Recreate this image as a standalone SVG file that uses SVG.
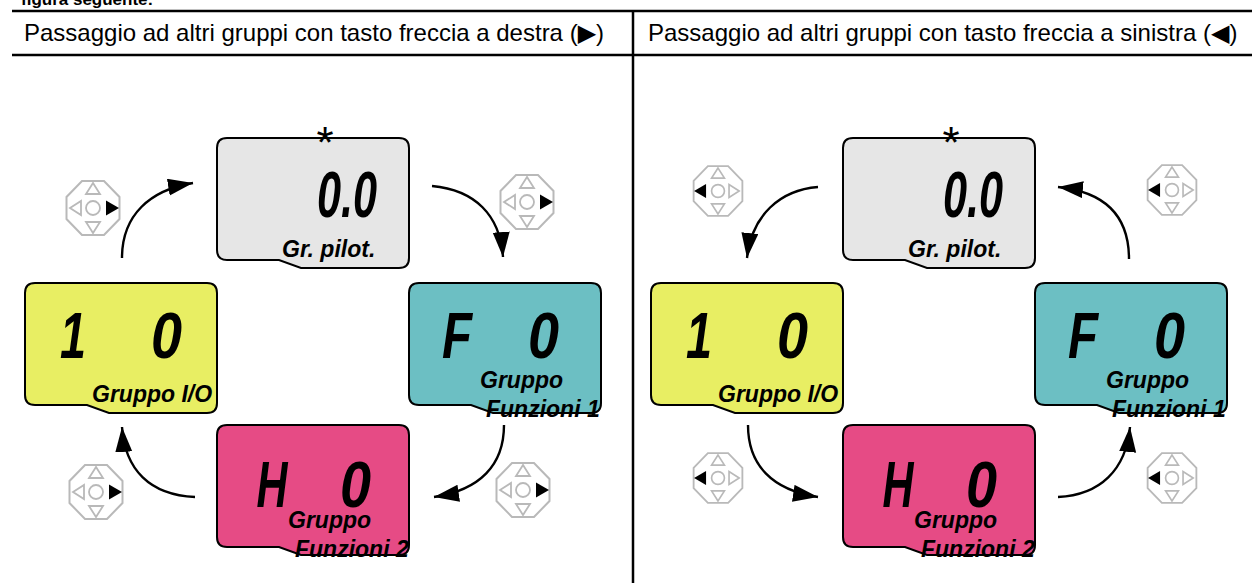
<svg xmlns="http://www.w3.org/2000/svg" xmlns:xlink="http://www.w3.org/1999/xlink" width="1252" height="583" viewBox="0 0 1252 583">
<style>
.rule{stroke:#000;stroke-width:2.5;fill:none}
.hdr{font-family:"Liberation Sans","DejaVu Sans",sans-serif;font-size:24px;fill:#000}
.top{font-family:"Liberation Sans",sans-serif;font-size:17px;font-weight:bold;fill:#000}
.box{stroke:#000;stroke-width:2}
.lcd{font-family:"Liberation Sans",sans-serif;font-style:italic;font-weight:bold;font-size:64px;fill:#000;text-anchor:middle}
.lbl{font-family:"Liberation Sans",sans-serif;font-style:italic;font-weight:bold;font-size:23px;fill:#000}
.star{font-family:"Liberation Sans",sans-serif;font-size:44px;fill:#000;text-anchor:middle}
.oct{fill:#fff;stroke:#b9b9b9;stroke-width:2}
.tri{fill:none;stroke:#b9b9b9;stroke-width:1.8}
.on{fill:#000}
.con{fill:none;stroke:#000;stroke-width:2.4;marker-end:url(#ah)}
</style>
<defs>
<marker id="ah" markerUnits="userSpaceOnUse" markerWidth="27" markerHeight="18" refX="25" refY="8.5" orient="auto">
<path d="M0,0 L25,8.5 L0,17 Z" fill="#000"/>
</marker>
<path id="box" d="M10,0 H182 Q192,0 192,10 V120 Q192,130 182,130 H84 L62,122 H10 Q0,122 0,112 V10 Q0,0 10,0 Z"/>
<g id="pad">
<polygon class="oct" points="-11,-27 11,-27 26.5,-11 26.5,11 11,27 -11,27 -26.5,11 -26.5,-11"/>
<polygon class="tri" points="0,-25 -7,-14 7,-14"/>
<polygon class="tri" points="0,25 -7,14 7,14"/>
<circle class="tri" r="7"/>
</g>
<g id="padR">
<use href="#pad"/>
<polygon class="tri" points="-23,0 -12,-7 -12,7"/>
<polygon class="on" points="26,0 13,-7.5 13,7.5"/>
</g>
<g id="padL">
<use href="#pad"/>
<polygon class="tri" points="23,0 12,-7 12,7"/>
<polygon class="on" points="-26,0 -13,-7.5 -13,7.5"/>
</g>
</defs>
<rect width="1252" height="583" fill="#fff"/>
<text class="top" x="21" y="5">figura seguente:</text>
<g id="table">
<line class="rule" x1="12" y1="11" x2="1252" y2="11"/>
<line class="rule" x1="12" y1="55" x2="1252" y2="55"/>
<line class="rule" x1="633" y1="11" x2="633" y2="583"/>
<text class="hdr" x="24" y="41">Passaggio ad altri gruppi con tasto freccia a destra (▶)</text>
<text class="hdr" x="648" y="41">Passaggio ad altri gruppi con tasto freccia a sinistra (◀)</text>
</g>

<g id="node-pilot-left" transform="translate(217,138)">
<use href="#box" class="box" fill="#e6e6e6"/>
<text class="lcd" x="130" y="79" textLength="60" lengthAdjust="spacingAndGlyphs">0.0</text>
<text class="lbl" x="65" y="119">Gr. pilot.</text>
<text class="star" x="108" y="20">*</text>
</g>
<g id="node-io-left" transform="translate(25,283)">
<use href="#box" class="box" fill="#e8ee63"/>
<text class="lcd" x="48" y="75" textLength="26" lengthAdjust="spacingAndGlyphs">1</text>
<text class="lcd" x="141.5" y="75" textLength="31" lengthAdjust="spacingAndGlyphs">0</text>
<text class="lbl" x="67" y="119">Gruppo I/O</text>
</g>
<g id="node-f1-left" transform="translate(409,283)">
<use href="#box" class="box" fill="#6cbfc3"/>
<text class="lcd" x="48" y="75" textLength="30" lengthAdjust="spacingAndGlyphs">F</text>
<text class="lcd" x="134.5" y="75" textLength="31" lengthAdjust="spacingAndGlyphs">0</text>
<text class="lbl" x="71" y="105">Gruppo</text>
<text class="lbl" x="77" y="134">Funzioni 1</text>
</g>
<g id="node-f2-left" transform="translate(217,425)">
<use href="#box" class="box" fill="#e64b85"/>
<text class="lcd" x="55" y="82" textLength="31" lengthAdjust="spacingAndGlyphs">H</text>
<text class="lcd" x="138.5" y="82" textLength="31" lengthAdjust="spacingAndGlyphs">0</text>
<text class="lbl" x="71" y="103">Gruppo</text>
<text class="lbl" x="78" y="132">Funzioni 2</text>
</g>

<g id="node-pilot-right" transform="translate(843,138)">
<use href="#box" class="box" fill="#e6e6e6"/>
<text class="lcd" x="130" y="79" textLength="60" lengthAdjust="spacingAndGlyphs">0.0</text>
<text class="lbl" x="65" y="119">Gr. pilot.</text>
<text class="star" x="108" y="20">*</text>
</g>
<g id="node-io-right" transform="translate(651,283)">
<use href="#box" class="box" fill="#e8ee63"/>
<text class="lcd" x="48" y="75" textLength="26" lengthAdjust="spacingAndGlyphs">1</text>
<text class="lcd" x="141.5" y="75" textLength="31" lengthAdjust="spacingAndGlyphs">0</text>
<text class="lbl" x="67" y="119">Gruppo I/O</text>
</g>
<g id="node-f1-right" transform="translate(1035,283)">
<use href="#box" class="box" fill="#6cbfc3"/>
<text class="lcd" x="48" y="75" textLength="30" lengthAdjust="spacingAndGlyphs">F</text>
<text class="lcd" x="134.5" y="75" textLength="31" lengthAdjust="spacingAndGlyphs">0</text>
<text class="lbl" x="71" y="105">Gruppo</text>
<text class="lbl" x="77" y="134">Funzioni 1</text>
</g>
<g id="node-f2-right" transform="translate(843,425)">
<use href="#box" class="box" fill="#e64b85"/>
<text class="lcd" x="55" y="82" textLength="31" lengthAdjust="spacingAndGlyphs">H</text>
<text class="lcd" x="138.5" y="82" textLength="31" lengthAdjust="spacingAndGlyphs">0</text>
<text class="lbl" x="71" y="103">Gruppo</text>
<text class="lbl" x="78" y="132">Funzioni 2</text>
</g>

<g id="keypads">
<use href="#padR" transform="translate(93,208)"/>
<use href="#padR" transform="translate(527,202)"/>
<use href="#padR" transform="translate(96,492)"/>
<use href="#padR" transform="translate(523,490)"/>
<use href="#padL" transform="translate(718,191) scale(0.92)"/>
<use href="#padL" transform="translate(1172,190) scale(0.92)"/>
<use href="#padL" transform="translate(718,478) scale(0.92)"/>
<use href="#padL" transform="translate(1172,478) scale(0.92)"/>
</g>

<g id="connectors">
<path class="con" d="M122,258 C122,215 150,190 193,183"/>
<path class="con" d="M432,186 C475,190 500,215 503,257"/>
<path class="con" d="M504,425 C504,465 480,490 434,497"/>
<path class="con" d="M195,497 C150,495 125,470 122,427"/>
<path class="con" d="M818,187 C780,190 752,215 747,258"/>
<path class="con" d="M1129,259 C1129,215 1105,192 1058,187"/>
<path class="con" d="M748,425 C748,465 772,490 818,497"/>
<path class="con" d="M1058,497 C1100,495 1126,470 1130,427"/>
</g>
</svg>
